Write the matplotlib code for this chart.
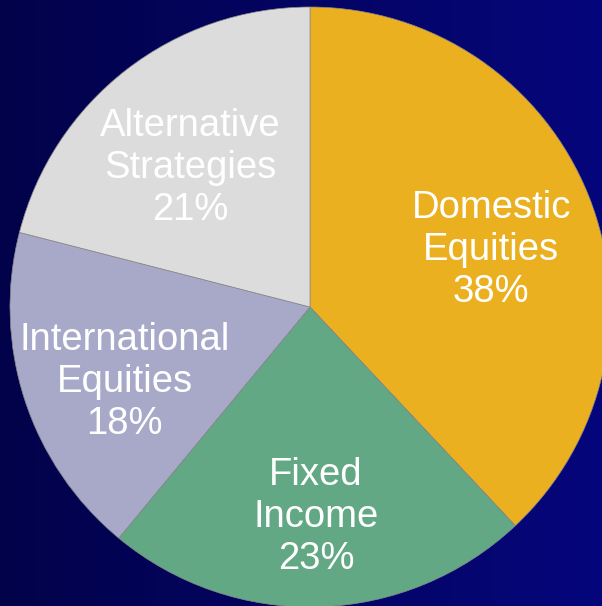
import numpy as np
import matplotlib.pyplot as plt
from matplotlib.colors import LinearSegmentedColormap

# --- Dados ---
categorias = ['Domestic\nEquities', 'Fixed\nIncome', 'International\nEquities', 'Alternative\nStrategies']
valores = [38, 23, 18, 21]
cores = ['#EBB020', '#63A884', '#A8A9C8', '#DCDCDC']

# --- Figura ---
fig = plt.figure(figsize=(6.02, 6.06), dpi=100)

# fundo com gradiente azul
ax_bg = fig.add_axes([0, 0, 1, 1])
gradiente = np.linspace(0, 1, 256).reshape(1, -1)
cmap_bg = LinearSegmentedColormap.from_list('fundo', ['#02024A', '#06067C'])
ax_bg.imshow(gradiente, aspect='auto', cmap=cmap_bg, extent=[0, 1, 0, 1])
ax_bg.axis('off')

# pizza
ax = fig.add_axes([10 / 602, -1 / 606, 600 / 602, 600 / 606])
wedges, textos = ax.pie(
    valores,
    labels=[f'{c}\n{v}%' for c, v in zip(categorias, valores)],
    colors=cores,
    startangle=90,
    counterclock=False,
    labeldistance=0.65,
    wedgeprops=dict(edgecolor='#888888', linewidth=0.5),
    textprops=dict(color='white', fontsize=27.5, family='Liberation Sans',
                   linespacing=1.22),
)
# rótulos centralizados, um pouco abaixo
for t in textos:
    t.set_horizontalalignment('center')
    t.set_verticalalignment('center')
    x, y = t.get_position()
    t.set_position((x, y - 0.05))

ax.set_xlim(-1, 1)
ax.set_ylim(-1, 1)
ax.set_aspect('equal')
ax.axis('off')

fig.savefig('out.png', dpi=100)
